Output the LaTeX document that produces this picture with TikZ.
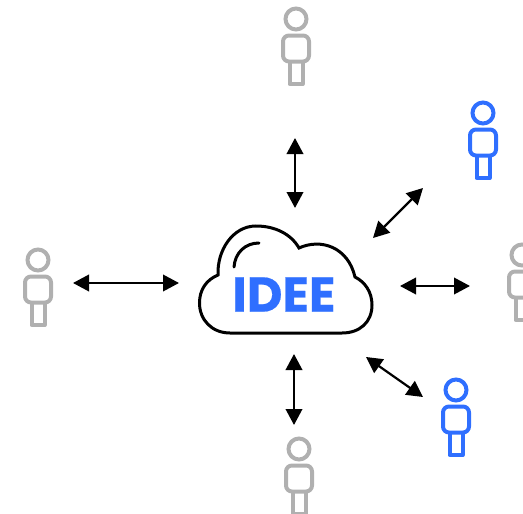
\documentclass[tikz,border=0pt]{standalone}
\usepackage{fontspec}
\setmainfont{Poppins}
\newfontfamily\ideefont[FakeBold=0.4]{Poppins Bold}
\usetikzlibrary{arrows.meta}
\definecolor{ideeblue}{HTML}{2F6FFF}
\definecolor{persongray}{HTML}{B0B0B0}
\tikzset{
  exchange/.style = {{Triangle[length=16pt,width=16.5pt]}-{Triangle[length=16pt,width=16.5pt]}, line width=2.2pt},
  person/.pic = {
    \draw[line width=4pt, pic actions] (0,0) circle (10.5);
    \draw[line width=4pt, rounded corners=6pt, pic actions] (-13,16.5) rectangle (13,42.5);
    \draw[line width=4pt, line join=round, pic actions] (-6.5,42.5) -- (-6.5,65) -- (6.5,65) -- (6.5,42.5);
  }
}
\begin{document}
\begin{tikzpicture}[x=1pt, y=-1pt]
  \useasboundingbox (0,0) rectangle (523,514);
  % people
  \pic[persongray] (top)    at (296,19)  {person};
  \pic[persongray] (left)   at (38,260)  {person};
  \pic[persongray] (right)  at (522,255) {person};
  \pic[persongray] (bottom) at (299,449) {person};
  \pic[ideeblue]   (upper)  at (483,113) {person};
  \pic[ideeblue]   (lower)  at (456,390) {person};
  % cloud
  \draw[line width=3pt, line join=miter]
    (218,275) .. controls (217,250) and (233,226) .. (256,226)
    .. controls (275,226) and (291,234) .. (299,248)
    .. controls (321,238) and (348,247) .. (355,277)
    .. controls (365,282) and (372,292) .. (372,305)
    .. controls (372,322) and (360,333) .. (342,333)
    -- (230,333)
    .. controls (212,333) and (199.5,320) .. (199.5,303)
    .. controls (199.5,290) and (206,280) .. (218,275) -- cycle;
  \draw[line width=3pt, line cap=round] (234,267) .. controls (235,253) and (245,243) .. (259,243);
  \node[text=ideeblue, font=\ideefont\fontsize{49}{49}\selectfont, inner sep=0pt] (idee) at (284,294.5) {IDEE};
  % arrows
  \coordinate (topA) at (295,138);   \coordinate (topB) at (295,208);
  \coordinate (leftA) at (73,283);   \coordinate (leftB) at (179,283);
  \coordinate (rightA) at (400,286); \coordinate (rightB) at (470,286);
  \coordinate (downA) at (294,354);  \coordinate (downB) at (294,425);
  \coordinate (upperA) at (373,238); \coordinate (upperB) at (423,188);
  \coordinate (lowerA) at (366,357); \coordinate (lowerB) at (423,397);
  \draw[exchange] (topA) -- (topB);
  \draw[exchange] (leftA) -- (leftB);
  \draw[exchange] (rightA) -- (rightB);
  \draw[exchange] (downA) -- (downB);
  \draw[exchange] (upperA) -- (upperB);
  \draw[exchange] (lowerA) -- (lowerB);
\end{tikzpicture}
\end{document}
